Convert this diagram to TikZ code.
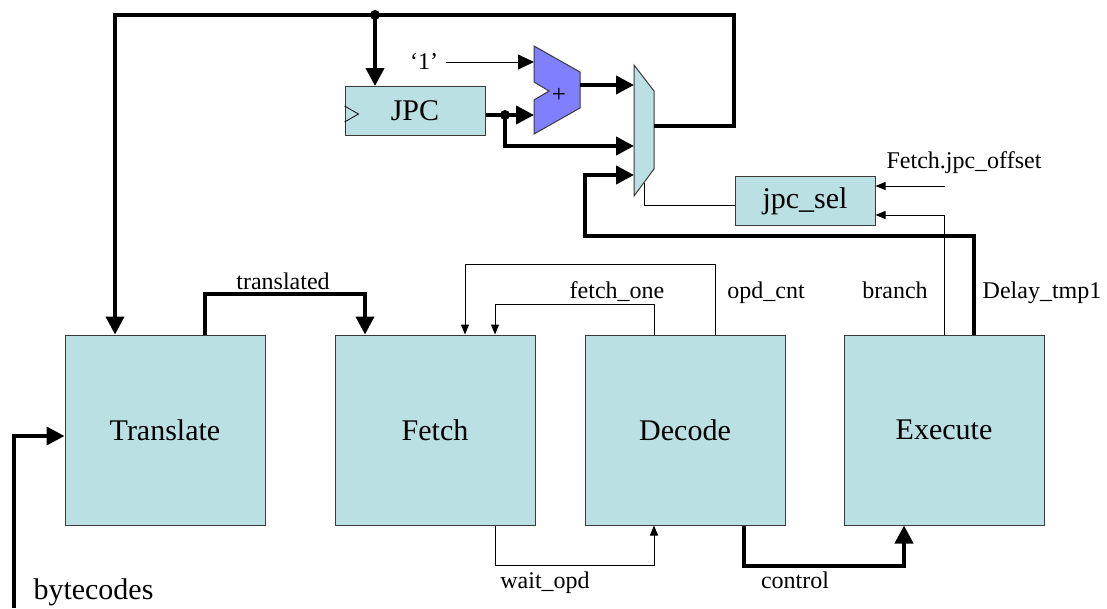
\documentclass[tikz,border=0pt]{standalone}
\usepackage{fontspec}
\setmainfont{Liberation Serif}
\usetikzlibrary{arrows.meta, positioning, calc}
\definecolor{cbox}{HTML}{BBE0E3}
\definecolor{cadd}{HTML}{8080FF}
\definecolor{cedge}{HTML}{3A3A3A}
\tikzset{
  every picture/.style={line width=1pt},
  stage/.style={draw=cedge, fill=cbox, minimum width=200pt, minimum height=190pt, inner sep=0pt, font=\fontsize{30}{34}\selectfont},
  reg/.style={draw=cedge, fill=cbox, minimum width=140pt, minimum height=49pt, inner sep=0pt, font=\fontsize{30}{34}\selectfont},
  bus/.style={line width=4pt, -{Triangle[length=18pt, width=18pt]}},
  wire/.style={line width=1pt, -{Triangle[length=10pt, width=8pt]}},
  lbl/.style={font=\fontsize{24}{27}\selectfont, inner sep=0pt},
}

\begin{document}
\begin{tikzpicture}[x=1pt, y=-1pt,
    inp/.style={line width=1pt, -{Triangle[length=16pt, width=15pt]}}]
  \useasboundingbox (0,0) rectangle (1107,608);
  % pipeline stages
  \node[stage] (tr) at (165,430) {Translate};
  \node[stage] (fe) at (435,430) {Fetch};
  \node[stage] (de) at (685,430) {Decode};
  \node[stage] (ex) at (944,430) {Execute};
  % jump pc register, clock mark on its left side
  \node[reg] (jpc) at (415,111) {JPC};
  \draw[line width=0.8pt] ($(jpc.west)+(0,-5)$) -- ($(jpc.west)+(14,3)$) -- ($(jpc.west)+(0,11)$);
  \node[reg] (sel) at (805,201) {jpc\_sel};
  % incrementer
  \draw[draw=cedge, fill=cadd] (534,46) -- (580,72) -- (580,108) -- (534,134) -- (534,100) -- (549,91) -- (534,82) -- cycle;
  \node[lbl, font=\fontsize{25}{28}\selectfont] (plus) at (559,95) {+};
  \coordinate (a1) at (534,62);
  \coordinate (a2) at (534,115);
  \coordinate (ao) at (580,85);
  % jpc multiplexer
  \draw[draw=cedge, fill=cbox] (634,65) -- (654,91) -- (654,169) -- (634,196) -- cycle;
  \coordinate (m1) at (634,85);
  \coordinate (m2) at (634,146);
  \coordinate (m3) at (634,175);
  \coordinate (ms) at (644,183);
  \coordinate (mo) at (654,126);
  % junctions and free ends
  \coordinate (j1) at (375,15);
  \coordinate (j2) at (505,115);
  \coordinate (bin) at (14,608);
  \coordinate (offin) at (945,186);

  % jpc feedback loop
  \draw[bus, -] (mo) -- ++(80,0) |- (j1);
  \draw[bus] (j1) -| ([xshift=-50pt]tr.north);
  \draw[bus] (j1) -- (j1 |- jpc.north);
  \fill (j1) circle (5pt);
  \draw[bus, -] ([yshift=-4pt]jpc.east) -- (j2);
  \draw[bus] (j2) -- (a2);
  \draw[bus] (j2) |- (m2);
  \fill (j2) circle (5pt);
  \draw[bus] (ao) -- (m1);
  \node[lbl] (one) at (424,62) {‘1’};
  \draw[inp] ([xshift=8pt]one.east) -- (a1);
  % selector inputs
  \draw ([yshift=-4pt]sel.west) -| (ms);
  \node[lbl, anchor=base] (offl) at (964,168) {Fetch.jpc\_offset};
  \draw[wire] (offin) -- (offin -| sel.east);
  \draw[wire] (ex.north) |- ([yshift=-14pt]sel.east);
  \draw[bus] ([xshift=30pt]ex.north) -- ++(0,-99) -| ([xshift=-49pt]m3) -- (m3);

  % links between the stages
  \draw[bus] (bin) |- ([yshift=-6pt]tr.west);
  \draw[bus] ([xshift=40pt]tr.north) -- ++(0,-41) -| ([xshift=-70pt]fe.north);
  \draw[wire] ([xshift=30pt]de.north) -- ++(0,-70) -| ([xshift=30pt]fe.north);
  \draw[wire] ([xshift=-31pt]de.north) -- ++(0,-30) -| ([xshift=60pt]fe.north);
  \draw[wire] ([xshift=60pt]fe.south) -- ++(0,40) -| ([xshift=-31pt]de.south);
  \draw[bus] ([xshift=59pt]de.south) -- ++(0,40) -| ([xshift=-40pt]ex.south);

  % signal names
  \node[lbl, anchor=base] (trl) at (283,289) {translated};
  \node[lbl, anchor=base] (fol) at (617,298) {fetch\_one};
  \node[lbl, anchor=base] (ocl) at (766,298) {opd\_cnt};
  \node[lbl, anchor=base] (brl) at (895,298) {branch};
  \node[lbl, anchor=base] (dtl) at (1042,298) {Delay\_tmp1};
  \node[lbl, anchor=base] (wol) at (545,588) {wait\_opd};
  \node[lbl, anchor=base] (ctl) at (795,588) {control};
  \node[lbl, anchor=base west, font=\fontsize{30}{34}\selectfont] (bcl) at (33,599) {bytecodes};
\end{tikzpicture}
\end{document}
